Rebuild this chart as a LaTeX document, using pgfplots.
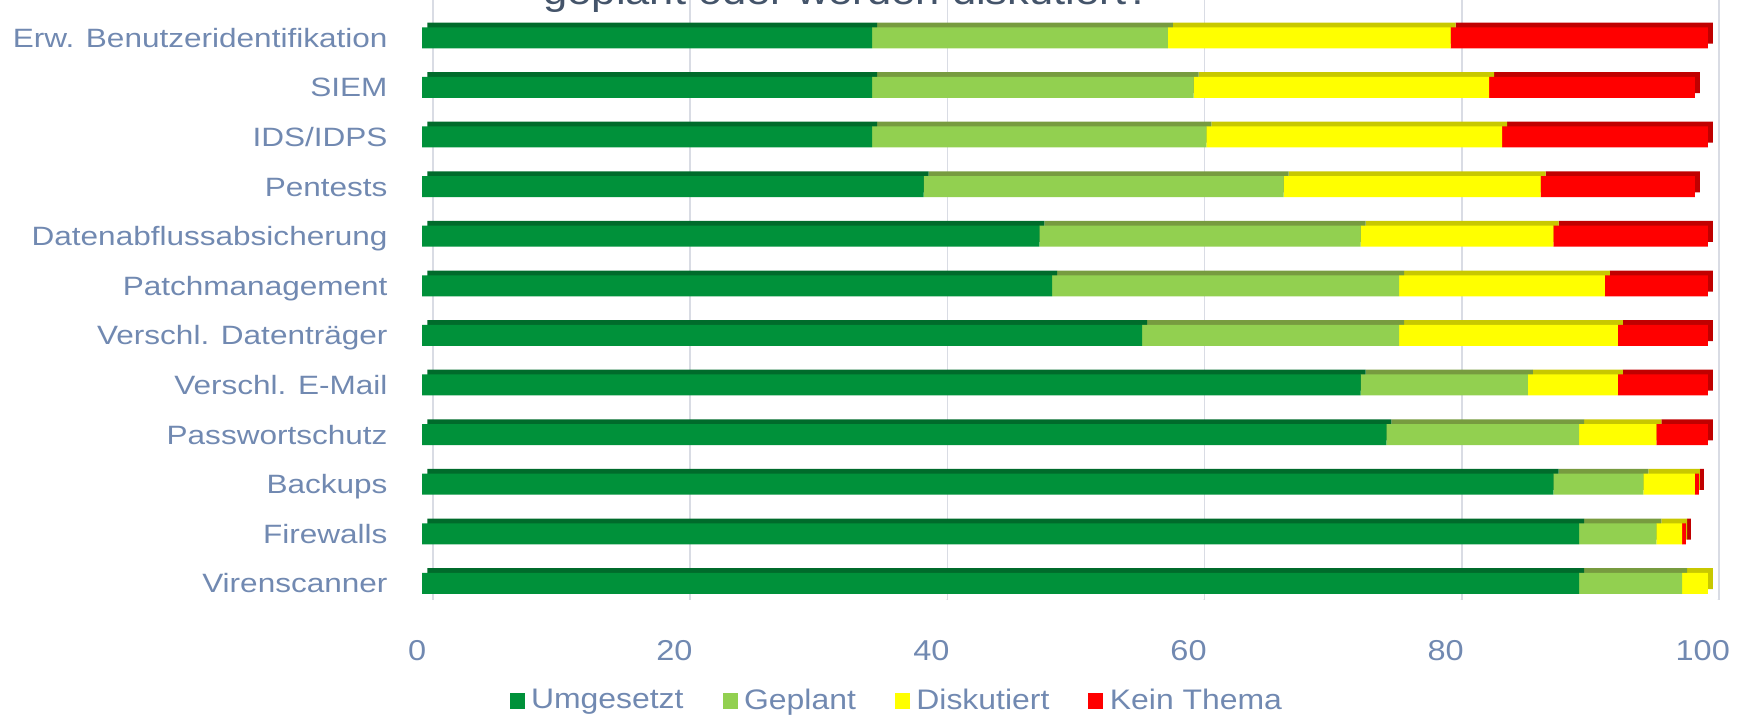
\documentclass[border=0pt]{standalone}
\usepackage{fontspec}
\setmainfont{Liberation Sans}
\newfontfamily\catfont[FakeStretch=1.19]{Liberation Sans}
\newfontfamily\tickfont[FakeStretch=1.13]{Liberation Sans}
\usepackage{pgfplots}
\pgfplotsset{compat=1.18}
\usepackage{pgfplotstable}

\definecolor{umg}{HTML}{00913A}
\definecolor{umgtop}{HTML}{006B2B}
\definecolor{gep}{HTML}{92D050}
\definecolor{geptop}{HTML}{779B3F}
\definecolor{dis}{HTML}{FFFF00}
\definecolor{distop}{HTML}{C8C800}
\definecolor{kein}{HTML}{FF0000}
\definecolor{keintop}{HTML}{C00000}
\definecolor{labelblue}{HTML}{7189B1}
\definecolor{gridgray}{HTML}{D9DCE4}
\definecolor{titlecol}{HTML}{44546A}

% y: 0 = Virenscanner (unten) ... 11 = Erw. Benutzeridentifikation (oben)
\pgfplotstableread{
y  umg gep dis kein
0  90  8   2   0.3
1  90  6   2   0.3
2  88  7   4   0.3
3  75  15  6   4
4  73  13  7   7
5  56  20  17  7
6  49  27  16  8
7  48  25  15  12
8  39  28  20  12
9  35  26  23  16
10 35  25  23  16
11 35  23  22  20
}\massnahmen

\pgfplotsset{
    sq/.style={legend image code/.code={\fill[##1] (0pt,-3.2pt) rectangle (6pt,3.2pt);}},
}

\begin{document}
\begin{tikzpicture}
    % Gitterlinien (hintere Ebene)
    \begin{axis}[
        at={(173.3pt,46.8pt)}, anchor=south west,
        scale only axis, width=514.2pt, height=245pt,
        xmin=0, xmax=100, ymin=0, ymax=1,
        xtick={0,20,...,100}, xticklabels={}, ytick=\empty,
        xmajorgrids, grid style={gridgray, line width=0.7pt},
        axis line style={draw=none}, major tick length=0pt,
        ]
        \pgfplotsinvokeforeach{0,20,...,100}{
            \draw[gridgray, line width=0.7pt] (axis cs:#1,0) -- ++(-7.6pt,-6.4pt);
        }
    \end{axis}

    % Ober- und Seitenflaechen
    \begin{axis}[
        at={(170.9pt,45.42pt)}, anchor=south west,
        scale only axis, width=514.2pt, height=238.08pt,
        xmin=0, xmax=100, ymin=-0.5, ymax=11.5,
        xbar stacked, bar width=8.4pt,
        hide axis,
        ]
        \addplot[fill=umgtop, draw=none] table[x=umg, y=y] {\massnahmen};
        \addplot[fill=geptop, draw=none] table[x=gep, y=y] {\massnahmen};
        \addplot[fill=distop, draw=none] table[x=dis, y=y] {\massnahmen};
        \addplot[fill=keintop, draw=none] table[x=kein, y=y] {\massnahmen};
    \end{axis}

    % Vorderflaechen
    \begin{axis}[
        at={(168.9pt,43.52pt)}, anchor=south west,
        scale only axis, width=514.2pt, height=238.08pt,
        xmin=0, xmax=100, ymin=-0.5, ymax=11.5,
        xbar stacked, bar width=8.4pt,
        axis line style={draw=none}, major tick length=0pt,
        xtick={0,20,...,100}, xticklabels={0,20,40,60,80,100},
        ytick={0,...,11},
        yticklabels={Virenscanner, Firewalls, Backups, Passwortschutz,
            Verschl. E-Mail, Verschl. Datenträger, Patchmanagement,
            Datenabflussabsicherung, Pentests, IDS/IDPS, SIEM,
            Erw. Benutzeridentifikation},
        yticklabel style={font=\catfont\fontsize{10.6}{12}\selectfont, text=labelblue,
            anchor=base east, inner sep=0pt, xshift=-13.7pt, yshift=-3.8pt},
        xticklabel style={font=\tickfont\fontsize{11.5}{13}\selectfont, text=labelblue,
            anchor=base, inner sep=0pt, yshift=-20.8pt, xshift=-2pt},
        legend columns=4,
        legend style={at={(0.0675,-0.156)}, anchor=west, draw=none, fill=none,
            inner sep=0pt, font=\tickfont\fontsize{11.3}{13}\selectfont, text=labelblue,
            nodes={inner xsep=2.6pt, inner ysep=0pt},
            /tikz/every even column/.append style={column sep=13pt}},
        ]
        \addplot[fill=umg, draw=none, sq] table[x=umg, y=y] {\massnahmen};
        \addplot[fill=gep, draw=none, sq] table[x=gep, y=y] {\massnahmen};
        \addplot[fill=dis, draw=none, sq] table[x=dis, y=y] {\massnahmen};
        \addplot[fill=kein, draw=none, sq] table[x=kein, y=y] {\massnahmen};
        \legend{Umgesetzt, Geplant, Diskutiert, Kein Thema}
    \end{axis}

    \node[font=\tickfont\fontsize{15.4}{18}\selectfont, text=titlecol, anchor=base west,
        inner sep=0pt] at (217.2pt,285pt) {geplant oder werden diskutiert?};

    \pgfresetboundingbox
    \path[use as bounding box] (0,0) rectangle (696.8pt,286.8pt);
\end{tikzpicture}
\end{document}
